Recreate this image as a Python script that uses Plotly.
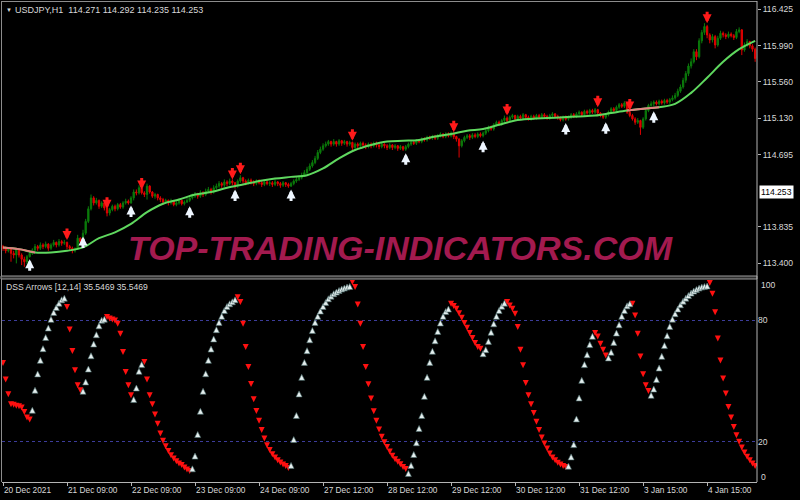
import plotly.graph_objects as go

# ---------------- data ----------------
x_ticks = [0, 24, 48, 72, 96, 120, 144, 168, 192, 216, 240, 264]
x_labels = ["20 Dec 2021", "21 Dec 09:00", "22 Dec 09:00", "23 Dec 09:00", "24 Dec 09:00",
            "27 Dec 12:00", "28 Dec 12:00", "29 Dec 12:00", "30 Dec 12:00", "31 Dec 12:00",
            "3 Jan 15:00", "4 Jan 15:00"]
price_ticks = [116.425, 115.990, 115.560, 115.130, 114.695, 113.835, 113.400]
bid_price = 114.253

first_open = 113.60
close = [
    113.58, 113.55, 113.57, 113.52, 113.50, 113.56, 113.50, 113.45, 113.42, 113.48,
    113.52, 113.56, 113.60, 113.58, 113.62, 113.60, 113.63, 113.58, 113.62, 113.65,
    113.62, 113.66, 113.64, 113.65, 113.60, 113.58, 113.55, 113.57, 113.70, 113.66,
    113.76, 113.90, 114.05, 114.18, 114.12, 114.15, 114.08, 114.12, 114.06, 114.00,
    114.04, 114.08, 114.05, 114.10, 114.07, 114.12, 114.14, 114.12, 114.18, 114.25,
    114.24, 114.30, 114.24, 114.22, 114.32, 114.25, 114.20, 114.22, 114.18, 114.16,
    114.13, 114.15, 114.12, 114.14, 114.10, 114.12, 114.15, 114.11, 114.13, 114.15,
    114.18, 114.20, 114.22, 114.20, 114.24, 114.22, 114.26, 114.28, 114.25, 114.30,
    114.32, 114.35, 114.33, 114.37, 114.35, 114.38, 114.36, 114.32, 114.38, 114.42,
    114.38, 114.36, 114.39, 114.37, 114.35, 114.38, 114.36, 114.34, 114.37, 114.35,
    114.36, 114.34, 114.37, 114.35, 114.33, 114.36, 114.34, 114.32, 114.35, 114.38,
    114.40, 114.42, 114.45, 114.48, 114.52, 114.56, 114.60, 114.65, 114.72, 114.76,
    114.80, 114.82, 114.85, 114.82, 114.85, 114.82, 114.86, 114.83, 114.85, 114.82,
    114.84, 114.78, 114.82, 114.80, 114.83, 114.81, 114.79, 114.82, 114.80, 114.83,
    114.81, 114.79, 114.82, 114.80, 114.78, 114.81, 114.78, 114.80, 114.77, 114.79,
    114.76, 114.79, 114.82, 114.84, 114.83, 114.86, 114.85, 114.88, 114.87, 114.90,
    114.89, 114.91, 114.89, 114.92, 114.94, 114.91, 114.94, 114.92, 114.95, 114.91,
    114.88, 114.80, 114.86, 114.90, 114.92, 114.90, 114.93, 114.91, 114.94, 114.92,
    114.95, 114.98, 115.02, 115.00, 115.05, 115.08, 115.06, 115.10, 115.13, 115.10,
    115.14, 115.16, 115.12, 115.15, 115.13, 115.17, 115.14, 115.12, 115.15, 115.13,
    115.16, 115.14, 115.17, 115.15, 115.13, 115.16, 115.18, 115.15, 115.13, 115.11,
    115.14, 115.12, 115.14, 115.17, 115.15, 115.18, 115.20, 115.17, 115.21, 115.19,
    115.22, 115.20, 115.23, 115.19, 115.16, 115.14, 115.17, 115.20, 115.24, 115.22,
    115.26, 115.29, 115.27, 115.31, 115.20, 115.16, 115.12, 115.08, 115.10, 115.02,
    115.12, 115.22, 115.28, 115.30, 115.32, 115.30, 115.33, 115.31, 115.34, 115.32,
    115.35, 115.37, 115.40, 115.45, 115.50, 115.58, 115.66, 115.75, 115.80, 115.92,
    115.86, 116.05, 116.15, 116.22, 116.12, 116.06, 116.10, 116.00, 116.08, 116.14,
    116.12, 116.10, 116.13, 116.11, 116.09, 116.16, 116.18, 115.94, 116.00, 116.04,
    115.99, 115.95, 115.84,
]
high = [
    113.62, 113.60, 113.59, 113.58, 113.55, 113.58, 113.57, 113.52, 113.48, 113.50,
    113.54, 113.58, 113.63, 113.62, 113.65, 113.64, 113.66, 113.64, 113.64, 113.68,
    113.66, 113.69, 113.68, 113.68, 113.66, 113.62, 113.60, 113.59, 113.74, 113.71,
    113.80, 113.93, 114.08, 114.22, 114.20, 114.18, 114.16, 114.14, 114.13, 114.07,
    114.06, 114.10, 114.10, 114.12, 114.12, 114.14, 114.17, 114.16, 114.20, 114.28,
    114.28, 114.33, 114.31, 114.26, 114.35, 114.33, 114.26, 114.24, 114.23, 114.20,
    114.18, 114.17, 114.16, 114.17, 114.15, 114.14, 114.17, 114.16, 114.15, 114.18,
    114.20, 114.23, 114.25, 114.24, 114.27, 114.26, 114.29, 114.31, 114.30, 114.33,
    114.35, 114.38, 114.37, 114.40, 114.39, 114.41, 114.40, 114.37, 114.40, 114.45,
    114.43, 114.40, 114.41, 114.41, 114.39, 114.40, 114.40, 114.38, 114.39, 114.39,
    114.38, 114.38, 114.40, 114.38, 114.37, 114.38, 114.37, 114.36, 114.37, 114.40,
    114.43, 114.45, 114.48, 114.51, 114.55, 114.59, 114.63, 114.68, 114.75, 114.79,
    114.83, 114.85, 114.87, 114.86, 114.88, 114.86, 114.88, 114.87, 114.87, 114.86,
    114.86, 114.85, 114.84, 114.84, 114.85, 114.85, 114.83, 114.84, 114.84, 114.85,
    114.85, 114.83, 114.84, 114.83, 114.82, 114.83, 114.82, 114.82, 114.81, 114.81,
    114.80, 114.81, 114.84, 114.86, 114.86, 114.88, 114.88, 114.90, 114.90, 114.92,
    114.92, 114.93, 114.93, 114.94, 114.96, 114.95, 114.96, 114.96, 114.97, 114.96,
    114.92, 114.89, 114.88, 114.92, 114.94, 114.94, 114.95, 114.95, 114.96, 114.96,
    114.97, 115.00, 115.04, 115.04, 115.07, 115.10, 115.10, 115.12, 115.16, 115.15,
    115.16, 115.18, 115.17, 115.17, 115.17, 115.19, 115.18, 115.16, 115.17, 115.17,
    115.18, 115.18, 115.19, 115.19, 115.17, 115.18, 115.20, 115.19, 115.17, 115.15,
    115.16, 115.16, 115.16, 115.19, 115.19, 115.20, 115.22, 115.21, 115.23, 115.23,
    115.24, 115.24, 115.25, 115.24, 115.20, 115.18, 115.19, 115.22, 115.26, 115.26,
    115.28, 115.31, 115.31, 115.33, 115.32, 115.22, 115.18, 115.14, 115.13, 115.11,
    115.14, 115.24, 115.30, 115.33, 115.34, 115.34, 115.35, 115.35, 115.36, 115.36,
    115.37, 115.40, 115.43, 115.48, 115.53, 115.61, 115.69, 115.78, 115.84, 115.95,
    115.95, 116.08, 116.18, 116.26, 116.24, 116.14, 116.13, 116.12, 116.11, 116.17,
    116.16, 116.14, 116.16, 116.15, 116.13, 116.19, 116.21, 116.19, 116.03, 116.07,
    116.05, 116.01, 115.97,
]
low = [
    113.55, 113.52, 113.53, 113.42, 113.46, 113.40, 113.47, 113.38, 113.36, 113.39,
    113.47, 113.50, 113.54, 113.55, 113.56, 113.57, 113.58, 113.55, 113.56, 113.60,
    113.59, 113.60, 113.61, 113.62, 113.57, 113.55, 113.52, 113.53, 113.56, 113.64,
    113.65, 113.74, 113.88, 114.03, 114.09, 114.10, 114.05, 114.06, 114.03, 113.96,
    113.97, 114.02, 114.02, 114.03, 114.05, 114.05, 114.10, 114.10, 114.11, 114.15,
    114.21, 114.22, 114.22, 114.19, 114.16, 114.23, 114.18, 114.17, 114.15, 114.13,
    114.10, 114.11, 114.09, 114.10, 114.08, 114.08, 114.10, 114.09, 114.09, 114.12,
    114.13, 114.16, 114.18, 114.17, 114.18, 114.19, 114.20, 114.24, 114.22, 114.23,
    114.28, 114.30, 114.30, 114.31, 114.32, 114.33, 114.33, 114.29, 114.30, 114.36,
    114.35, 114.33, 114.34, 114.34, 114.32, 114.33, 114.34, 114.31, 114.32, 114.33,
    114.32, 114.31, 114.32, 114.32, 114.30, 114.31, 114.31, 114.30, 114.31, 114.33,
    114.36, 114.38, 114.40, 114.43, 114.46, 114.50, 114.54, 114.58, 114.63, 114.70,
    114.74, 114.78, 114.80, 114.79, 114.80, 114.79, 114.80, 114.80, 114.81, 114.79,
    114.80, 114.75, 114.76, 114.77, 114.78, 114.78, 114.76, 114.77, 114.77, 114.78,
    114.78, 114.76, 114.77, 114.77, 114.75, 114.76, 114.75, 114.76, 114.74, 114.75,
    114.74, 114.74, 114.77, 114.80, 114.81, 114.81, 114.83, 114.83, 114.85, 114.85,
    114.87, 114.87, 114.87, 114.87, 114.90, 114.89, 114.89, 114.90, 114.90, 114.88,
    114.85, 114.66, 114.78, 114.84, 114.88, 114.87, 114.88, 114.89, 114.89, 114.90,
    114.90, 114.93, 114.96, 114.98, 114.98, 115.03, 115.04, 115.04, 115.08, 115.07,
    115.08, 115.12, 115.10, 115.10, 115.11, 115.11, 115.12, 115.10, 115.10, 115.11,
    115.11, 115.12, 115.12, 115.13, 115.11, 115.11, 115.14, 115.13, 115.11, 115.09,
    115.09, 115.10, 115.10, 115.12, 115.13, 115.13, 115.16, 115.15, 115.15, 115.17,
    115.17, 115.18, 115.18, 115.17, 115.14, 115.12, 115.12, 115.15, 115.18, 115.20,
    115.20, 115.24, 115.25, 115.25, 115.18, 115.14, 115.10, 115.05, 115.06, 114.93,
    115.00, 115.10, 115.20, 115.26, 115.27, 115.28, 115.28, 115.29, 115.29, 115.30,
    115.30, 115.33, 115.35, 115.38, 115.43, 115.48, 115.55, 115.63, 115.72, 115.78,
    115.82, 115.84, 116.02, 116.12, 116.08, 116.02, 116.03, 115.96, 115.98, 116.06,
    116.09, 116.07, 116.08, 116.09, 116.06, 116.07, 116.14, 115.88, 115.92, 115.98,
    115.96, 115.92, 115.80,
]

ma_bars = list(range(0, 283, 6))
ma_vals = [113.59, 113.57, 113.53, 113.53, 113.55, 113.59, 113.70, 113.77, 113.87, 114.01,
           114.11, 114.16, 114.22, 114.25, 114.30, 114.34, 114.38, 114.41, 114.43, 114.45,
           114.53, 114.65, 114.75, 114.81, 114.85, 114.86, 114.87, 114.91, 114.94, 114.98,
           115.00, 115.05, 115.10, 115.12, 115.13, 115.14, 115.15, 115.16, 115.19, 115.22,
           115.24, 115.26, 115.30, 115.43, 115.61, 115.80, 115.95, 116.05]
ma_pink_ranges = [(0, 12), (234, 246)]

up_sig_bars = [10, 30, 48, 70, 87, 108, 151, 180, 211, 226, 244]
up_sig_price = [113.45, 113.72, 114.09, 114.08, 114.28, 114.28, 114.71, 114.86, 115.07, 115.08, 115.21]
dn_sig_bars = [24, 39, 52, 86, 89, 131, 169, 189, 223, 235, 264]
dn_sig_price = [113.68, 114.05, 114.28, 114.40, 114.46, 114.86, 114.96, 115.16, 115.26, 115.22, 116.26]

dss = [
    57.4, 49.2, 42.0, 37.0, 36.7, 36.3, 36.0, 35.4, 33.2, 30.4,
    29.4, 37.0, 46.9, 55.0, 61.7, 67.5, 73.0, 77.7, 82.0, 85.4,
    87.9, 90.0, 91.7, 92.5, 85.1, 74.0, 63.4, 53.8, 46.4, 43.9,
    46.4, 51.0, 57.4, 64.0, 69.8, 74.4, 78.8, 81.5, 82.1, 80.2,
    79.5, 79.0, 78.5, 76.9, 71.9, 62.9, 53.0, 46.4, 41.4, 42.3,
    48.0, 56.3, 59.6, 57.9, 49.2, 41.4, 37.0, 31.9, 27.4, 22.5,
    18.9, 16.2, 13.9, 11.8, 10.1, 8.8, 7.7, 6.9, 5.7, 4.7,
    4.0, 8.0, 14.3, 25.0, 36.5, 46.4, 55.1, 61.7, 67.3, 72.3,
    76.9, 80.5, 83.5, 86.4, 88.4, 89.7, 90.7, 91.7, 90.0, 87.6,
    76.9, 65.3, 55.5, 47.0, 39.5, 33.7, 28.8, 24.2, 20.0, 16.7,
    14.3, 12.3, 10.6, 9.3, 8.2, 7.2, 6.4, 5.4, 9.7, 22.5,
    34.4, 45.1, 53.3, 60.7, 66.5, 71.9, 76.5, 80.5, 83.5, 86.1,
    88.4, 90.4, 92.2, 93.5, 94.7, 95.5, 96.3, 97.0, 97.5, 98.0,
    98.3, 97.5, 95.0, 86.4, 76.9, 65.3, 55.5, 46.9, 39.8, 33.5,
    28.8, 24.5, 20.9, 18.2, 15.9, 13.6, 11.5, 9.8, 8.5, 7.3,
    6.0, 4.9, 5.7, 9.7, 15.1, 20.9, 28.0, 34.4, 43.9, 53.3,
    60.7, 66.2, 71.4, 76.0, 80.2, 83.5, 85.9, 87.1, 86.8, 85.6,
    84.3, 82.1, 79.8, 77.2, 74.9, 72.3, 69.8, 67.3, 65.3, 64.5,
    65.0, 67.0, 71.1, 75.6, 79.8, 83.5, 86.4, 88.5, 90.0, 87.6,
    85.9, 84.3, 81.8, 75.2, 64.0, 56.3, 47.5, 41.4, 37.0, 32.7,
    28.3, 24.2, 20.5, 17.6, 15.1, 12.6, 10.6, 9.3, 8.0, 7.2,
    6.4, 6.0, 9.3, 13.9, 20.0, 32.7, 43.1, 51.8, 59.6, 64.5,
    69.5, 73.6, 72.3, 70.6, 67.0, 64.0, 61.2, 62.9, 65.7, 70.6,
    75.2, 79.3, 83.5, 86.4, 88.7, 89.7, 86.8, 81.0, 71.9, 60.7,
    51.8, 46.4, 43.6, 44.4, 47.5, 52.2, 57.9, 63.7, 69.0, 73.9,
    78.5, 82.1, 84.8, 87.1, 89.2, 91.0, 92.5, 93.8, 95.0, 96.0,
    96.8, 97.5, 98.0, 98.3, 98.5, 97.0, 91.7, 82.6, 69.5, 58.7,
    49.7, 42.3, 35.7, 30.4, 25.8, 21.7, 18.4, 15.6, 13.1, 11.0,
    9.3, 7.7, 6.4,
]

# ---------------- figure ----------------
W, H = 800, 500
def px(x): return x / W
def py(y): return 1 - y / H

bars = list(range(len(close)))
open_ = [first_open] + close[:-1]   # each hourly bar opens at the previous close

FONT = "Liberation Sans"
TXT = "#d8d8d8"
GRID = "#b4b4b4"

fig = go.Figure()

fig.add_trace(go.Candlestick(
    x=bars, open=open_, high=high, low=low, close=close,
    increasing=dict(line=dict(color="#0b7a0b", width=1), fillcolor="#0b7a0b"),
    decreasing=dict(line=dict(color="#e00000", width=1), fillcolor="#e00000"),
    whiskerwidth=0, xaxis="x", yaxis="y", hoverinfo="skip", showlegend=False))

fig.add_trace(go.Scatter(x=ma_bars, y=ma_vals, mode="lines",
                         line=dict(color="#5fd85f", width=2, shape="spline"),
                         xaxis="x", yaxis="y", showlegend=False, hoverinfo="skip"))
for a, b in ma_pink_ranges:
    xs = [bx for bx in ma_bars if a <= bx <= b]
    ys = [v for bx, v in zip(ma_bars, ma_vals) if a <= bx <= b]
    fig.add_trace(go.Scatter(x=xs, y=ys, mode="lines",
                             line=dict(color="#e08080", width=2, shape="spline"),
                             xaxis="x", yaxis="y", showlegend=False, hoverinfo="skip"))

up_i = [i for i in range(1, len(dss)) if dss[i] > dss[i - 1]]
dn_i = [0] + [i for i in range(1, len(dss)) if dss[i] <= dss[i - 1]]
fig.add_trace(go.Scatter(x=dn_i, y=[dss[i] for i in dn_i], mode="markers",
                         marker=dict(symbol="arrow-down", size=6, color="#ff1010",
                                     line=dict(width=0)),
                         xaxis="x2", yaxis="y2", showlegend=False, hoverinfo="skip"))
fig.add_trace(go.Scatter(x=up_i, y=[dss[i] for i in up_i], mode="markers",
                         marker=dict(symbol="arrow-up", size=6, color="#e4eeee",
                                     line=dict(width=0.6, color="#4a6a6a")),
                         xaxis="x2", yaxis="y2", showlegend=False, hoverinfo="skip"))

annotations = []
for b, p in zip(up_sig_bars, up_sig_price):
    annotations.append(dict(x=b, y=p, xref="x", yref="y", text="", showarrow=True,
                            ax=0, ay=13, arrowhead=2, arrowsize=0.6, arrowwidth=3,
                            arrowcolor="#eef6ff", standoff=0))
for b, p in zip(dn_sig_bars, dn_sig_price):
    annotations.append(dict(x=b, y=p, xref="x", yref="y", text="", showarrow=True,
                            ax=0, ay=-13, arrowhead=2, arrowsize=0.6, arrowwidth=3,
                            arrowcolor="#ff1a1a", standoff=0))

annotations += [
    dict(x=px(4), y=py(9.5), xref="paper", yref="paper", text="\u25bc", showarrow=False,
         xanchor="left", yanchor="middle", font=dict(family=FONT, size=6, color=TXT)),
    dict(x=px(13), y=py(9.5), xref="paper", yref="paper",
         text="USDJPY,H1\u00a0\u00a0114.271 114.292 114.235 114.253", showarrow=False,
         xanchor="left", yanchor="middle", font=dict(family=FONT, size=9, color=TXT)),
    dict(x=px(4), y=py(287), xref="paper", yref="paper",
         text="DSS Arrows [12,14] 35.5469 35.5469", showarrow=False,
         xanchor="left", yanchor="middle", font=dict(family=FONT, size=8.6, color=TXT)),
    dict(x=px(759), y=bid_price, xref="paper", yref="y", text="114.253", showarrow=False,
         xanchor="left", yanchor="middle", bgcolor="#ffffff", borderpad=1,
         font=dict(family=FONT, size=8.6, color="#000000")),
    dict(x=px(759), y=py(285), xref="paper", yref="paper", text="100", showarrow=False,
         xanchor="left", yanchor="middle", font=dict(family=FONT, size=8.6, color=TXT)),
    dict(x=px(759), y=py(477), xref="paper", yref="paper", text="0", showarrow=False,
         xanchor="left", yanchor="middle", font=dict(family=FONT, size=8.6, color=TXT)),
    dict(x=0.5, y=py(248), xref="paper", yref="paper", text="TOP-TRADING-INDICATORS.COM",
         showarrow=False, xanchor="center", yanchor="middle",
         font=dict(family=FONT, size=34, color="#a31a4f", weight="bold", style="italic")),
]

shapes = [
    dict(type="line", xref="paper", yref="paper", x0=px(1.5), x1=px(1.5), y0=py(1), y1=py(482),
         line=dict(color="#8c8c8c", width=1)),
    dict(type="line", xref="paper", yref="paper", x0=px(1), x1=px(757), y0=py(1.5), y1=py(1.5),
         line=dict(color="#8c8c8c", width=1)),
    dict(type="rect", xref="paper", yref="paper", x0=px(1), x1=px(757), y0=py(279), y1=py(276),
         line=dict(color="#9a9a9a", width=1), fillcolor="#303030"),
    dict(type="line", xref="paper", yref="paper", x0=px(757), x1=px(757), y0=py(1), y1=py(482),
         line=dict(color=GRID, width=1)),
]

xr = [-0.375, 282.7]
fig.update_layout(
    width=W, height=H, margin=dict(l=0, r=0, t=0, b=0),
    paper_bgcolor="#000000", plot_bgcolor="#000000",
    showlegend=False, annotations=annotations, shapes=shapes,
    font=dict(family=FONT, size=9, color=TXT),
    xaxis=dict(domain=[px(2), px(757)], range=xr, anchor="y", showgrid=False,
               zeroline=False, showticklabels=False, rangeslider=dict(visible=False),
               fixedrange=True),
    yaxis=dict(domain=[py(276), py(3)], range=[113.25, 116.50], side="right", anchor="x",
               tickvals=price_ticks, ticktext=["%.3f" % v for v in price_ticks],
               ticks="outside", ticklen=3, tickcolor=GRID, showgrid=False, zeroline=False,
               showline=False, tickfont=dict(family=FONT, size=8.6, color=TXT)),
    xaxis2=dict(domain=[px(2), px(757)], range=xr, anchor="y2", showgrid=False, zeroline=False,
                tickvals=x_ticks, ticktext=x_labels, ticks="outside", ticklen=3,
                tickcolor=GRID, showline=True, linecolor=GRID, linewidth=1,
                ticklabelposition="outside right",
                tickfont=dict(family=FONT, size=8.3, color=TXT)),
    yaxis2=dict(domain=[py(482), py(280)], range=[0, 100], side="right", anchor="x2",
                tickvals=[80, 20], ticktext=["80", "20"], ticks="", showgrid=True,
                gridcolor="#3c3c9a", griddash="dot", gridwidth=1, zeroline=False,
                showline=False, tickfont=dict(family=FONT, size=8.6, color=TXT)),
)

fig.write_html("out.html", config={"displayModeBar": False},
               post_script="document.body.style.margin='0';document.body.style.padding='0';"
                           "document.body.style.background='#000';")
